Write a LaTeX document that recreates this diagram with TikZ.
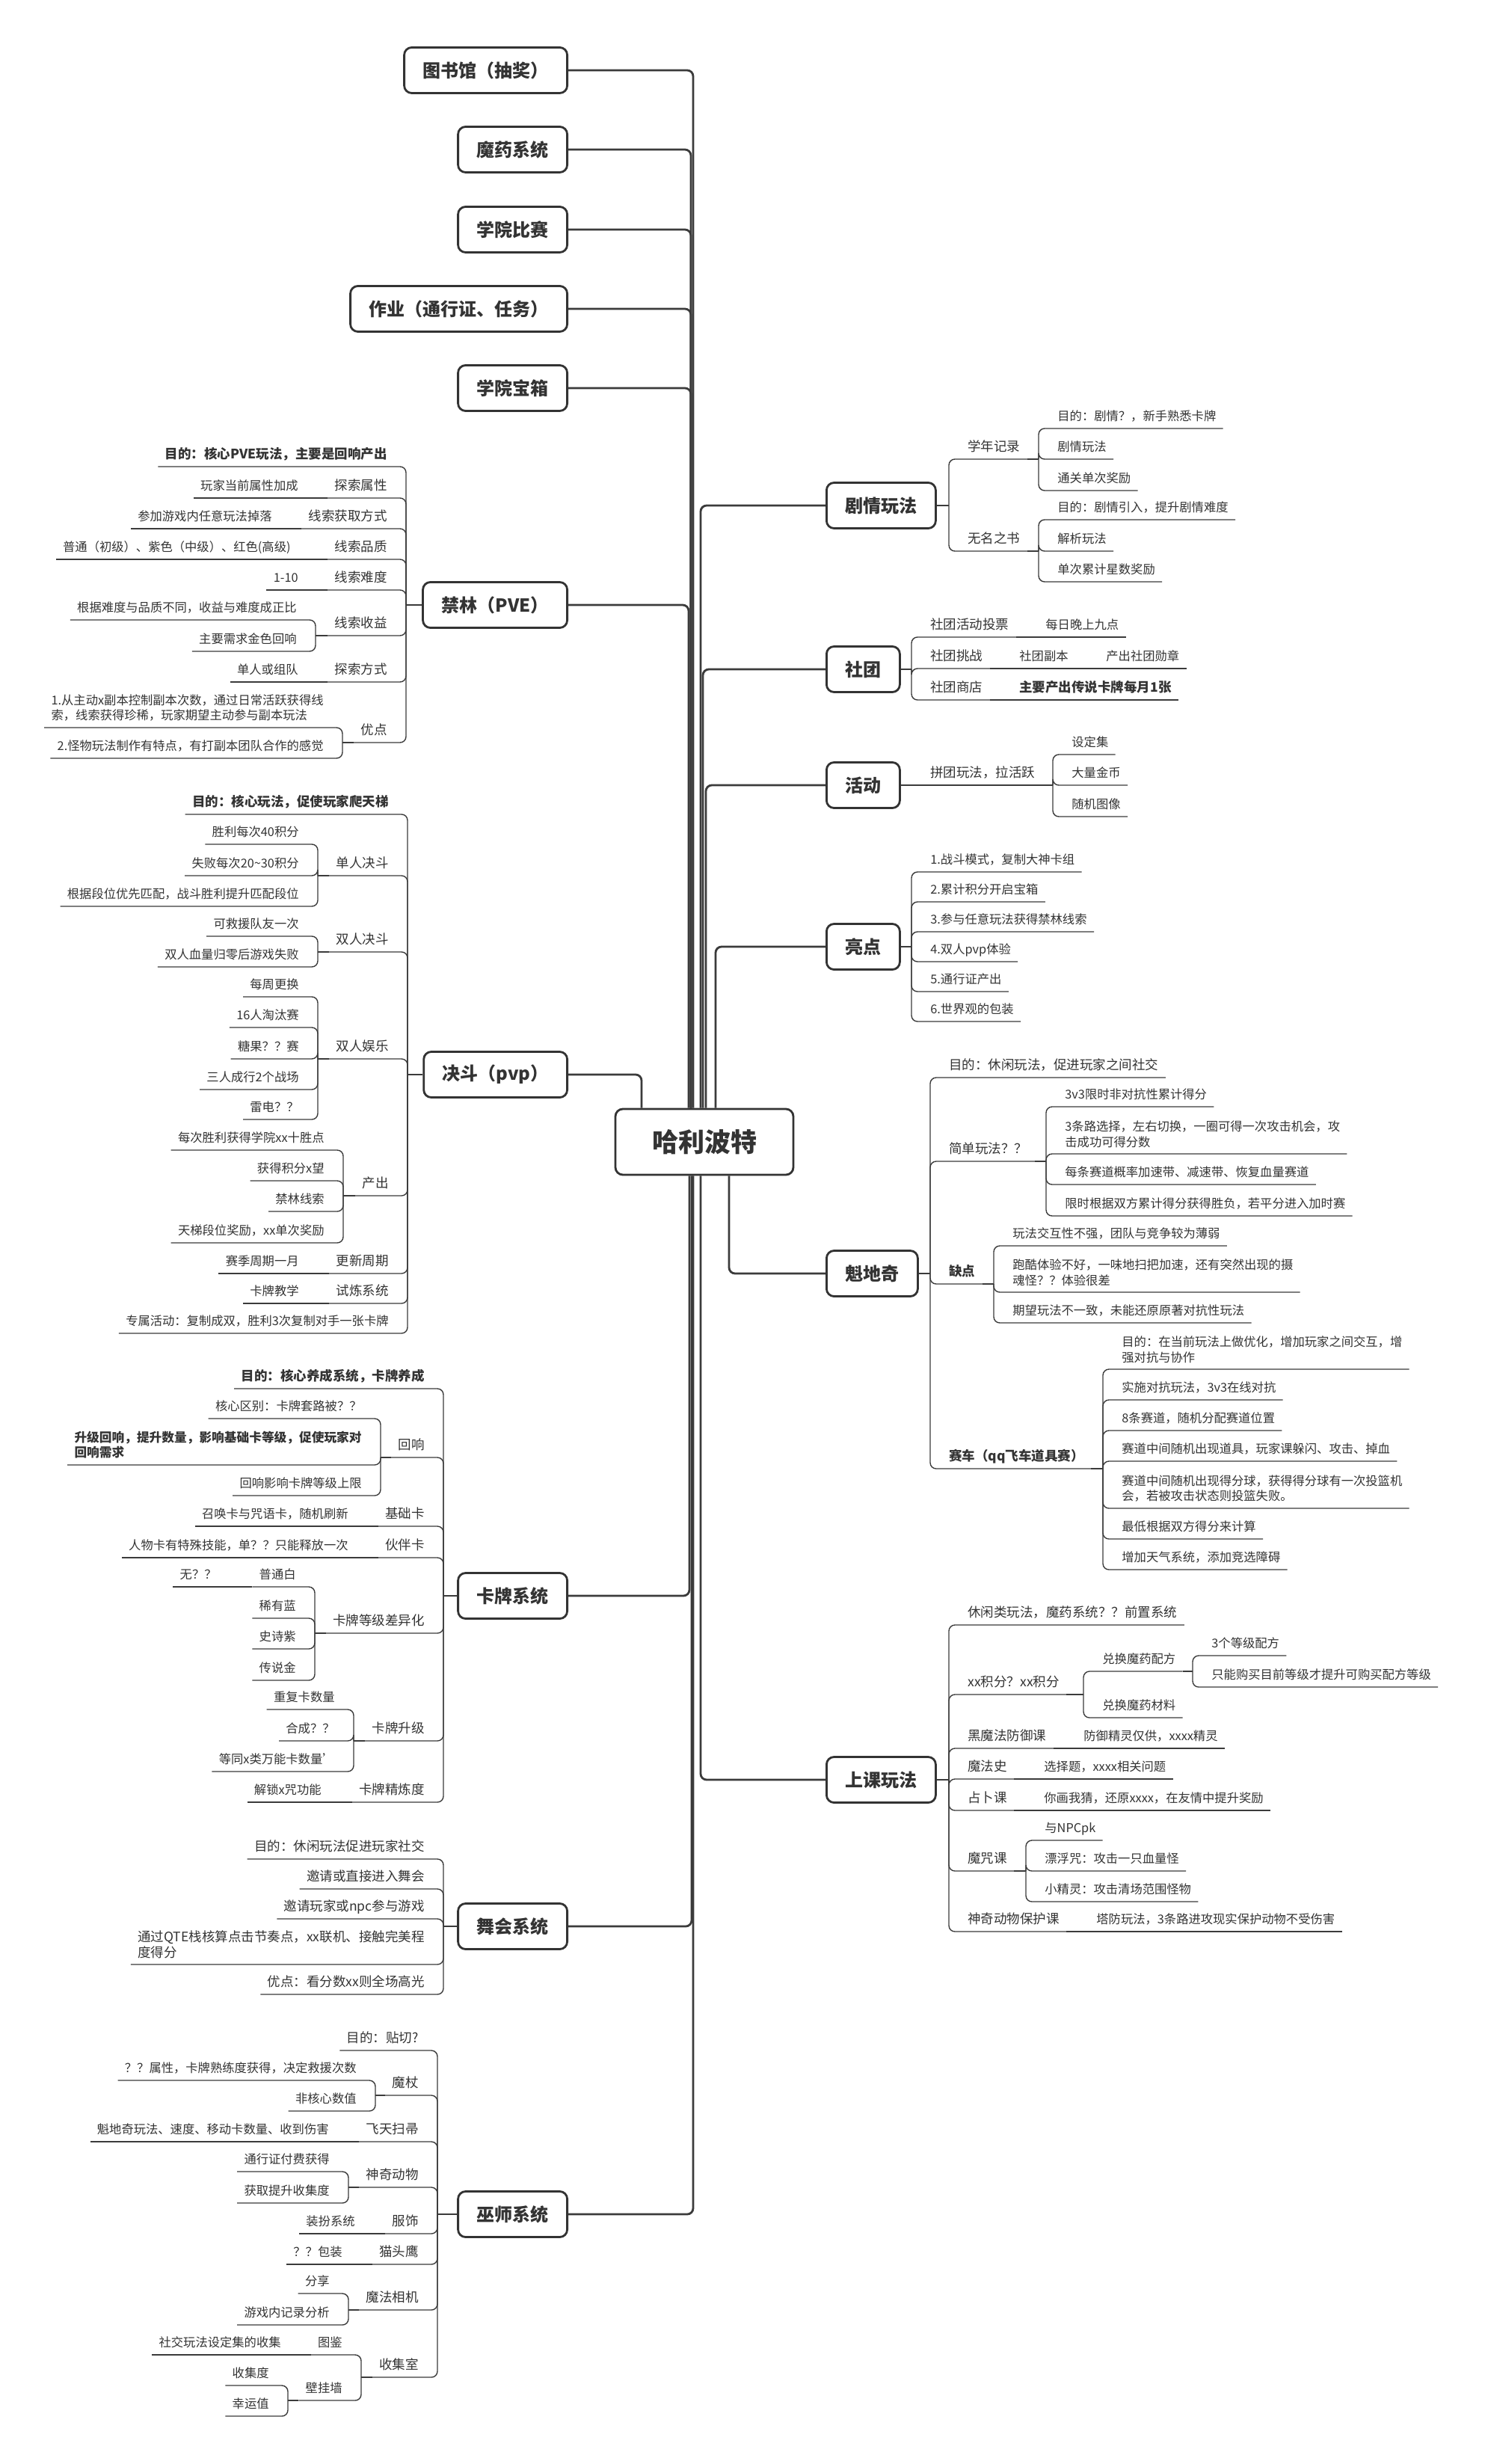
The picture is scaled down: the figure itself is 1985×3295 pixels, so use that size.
\documentclass[tikz,border=0pt]{standalone}
\usepackage{fontspec}
\setmainfont{Noto Sans CJK SC}
\usetikzlibrary{calc}
\definecolor{ink}{HTML}{333333}
\definecolor{wire}{HTML}{3B3B3B}

\begin{document}
\begin{tikzpicture}[x=0.5pt, y=-0.5pt,
        topic/.style={rectangle, draw=ink, line width=1.4pt, rounded corners=5pt, fill=white, text=ink, font=\fontsize{12pt}{14pt}\selectfont\bfseries, minimum height=30.5pt, inner xsep=12.5pt},
        hub/.style={topic, font=\fontsize{17.5pt}{20pt}\selectfont\bfseries, minimum width=119pt, minimum height=44pt},
        cat/.style={text=ink, font=\fontsize{8.75pt}{10.5pt}\selectfont, inner xsep=4.5pt, inner ysep=4pt, text depth=1.2pt},
        leaf/.style={cat, font=\fontsize{8.15pt}{10.3pt}\selectfont},
        catm/.style={text=ink, font=\fontsize{8.75pt}{10.2pt}\selectfont, inner xsep=4.5pt, inner ysep=4pt, align=left},
        leafm/.style={catm, font=\fontsize{8.15pt}{10.2pt}\selectfont},
        heavy/.style={font=\fontsize{8.75pt}{10.2pt}\selectfont\bfseries},
        lside/.style={anchor=south east}, rside/.style={anchor=south west},
        main/.style={draw=wire, line width=1.4pt, rounded corners=4pt},
        sub/.style={draw=wire, line width=0.7pt, rounded corners=4pt},
        stub/.style={draw=wire, line width=1.1pt}]
    \useasboundingbox (0,0) rectangle (1985,3295);
    \fill[white] (0,0) rectangle (1985,3295);
    \node[hub] (root) at (942,1527) {哈利波特};
    \node[topic, anchor=east] (lib) at (760,94) {图书馆（抽奖）};
    \node[topic, anchor=east] (potion) at (760,200) {魔药系统};
    \node[topic, anchor=east] (cup) at (760,307) {学院比赛};
    \node[topic, anchor=east] (hw) at (760,413) {作业（通行证、任务）};
    \node[topic, anchor=east] (chest) at (760,519) {学院宝箱};
    \node[topic, anchor=east] (forest) at (760,809) {禁林（PVE）};
    \node[topic, anchor=east] (duel) at (760,1437) {决斗（pvp）};
    \node[topic, anchor=east] (card) at (760,2134) {卡牌系统};
    \node[topic, anchor=east] (ball) at (760,2576) {舞会系统};
    \node[topic, anchor=east] (wiz) at (760,2961) {巫师系统};
    \node[topic, anchor=west] (plot) at (1104,676) {剧情玩法};
    \node[topic, anchor=west] (club) at (1104,895) {社团};
    \node[topic, anchor=west] (event) at (1104,1050) {活动};
    \node[topic, anchor=west] (high) at (1104,1266) {亮点};
    \node[topic, anchor=west] (quid) at (1104,1703) {魁地奇};
    \node[topic, anchor=west] (class) at (1104,2380) {上课玩法};
    \draw[main] ($(root.north)+(-15,0)$) |- (lib.east);
    \foreach \mom in {potion,cup,hw,chest}
        \draw[main] ($(root.north)+(-18,0)$) |- (\mom.east);
    \draw[main] ($(root.north)+(-21,0)$) |- (forest.east);
    \draw[main] ($(root.north)+(-84,0)$) |- (duel.east);
    \draw[main] ($(root.south)+(-20,0)$) |- (card.east);
    \draw[main] ($(root.south)+(-17,0)$) |- (ball.east);
    \draw[main] ($(root.south)+(-15,0)$) |- (wiz.east);
    \draw[main] ($(root.north)+(-5,0)$) |- (plot.west);
    \draw[main] ($(root.north)+(-2,0)$) |- (club.west);
    \draw[main] ($(root.north)+(2,0)$) |- (event.west);
    \draw[main] ($(root.north)+(15,0)$) |- (high.west);
    \draw[main] ($(root.south)+(33,0)$) |- (quid.west);
    \draw[main] ($(root.south)+(-5,0)$) |- (class.west);

    % 禁林
    \node[cat, lside, heavy] (f1) at (527,624) {目的：核心PVE玩法，主要是回响产出};
    \node[cat, lside] (f2) at (527,666) {探索属性};
    \node[leaf, lside] (f2a) at (408,666) {玩家当前属性加成};
    \node[cat, lside] (f3) at (527,707) {线索获取方式};
    \node[leaf, lside] (f3a) at (373,707) {参加游戏内任意玩法掉落};
    \node[cat, lside] (f4) at (527,748) {线索品质};
    \node[leaf, lside] (f4a) at (398,748) {普通（初级）、紫色（中级）、红色(高级)};
    \node[cat, lside] (f5) at (527,789) {线索难度};
    \node[leaf, lside] (f5a) at (408,789) {1-10};
    \node[cat, lside] (f6) at (527,850) {线索收益};
    \node[leaf, lside] (f6a) at (406,829) {根据难度与品质不同，收益与难度成正比};
    \node[leaf, lside] (f6b) at (406,871) {主要需求金色回响};
    \node[cat, lside] (f7) at (527,912) {探索方式};
    \node[leaf, lside] (f7a) at (408,912) {单人或组队};
    \node[cat, lside] (f8) at (527,993) {优点};
    \node[leafm, lside] (f8a) at (442,973) {1.从主动x副本控制副本次数，通过日常活跃获得线\\索，线索获得珍稀，玩家期望主动参与副本玩法};
    \node[leaf, lside] (f8b) at (442,1014) {2.怪物玩法制作有特点，有打副本团队合作的感觉};
    \draw[stub] (forest.west) -- ($(forest.west -| f1.south east)+(16,0)$);
    \foreach \kid in {f1,f2,f3,f4,f5,f6,f7,f8}
        \draw[sub] ($(forest.west -| f1.south east)+(16,0)$) |- (\kid.south east) -- (\kid.south west);
    \foreach \mom/\kid in {f2/f2a,f3/f3a,f4/f4a,f5/f5a,f7/f7a}
        \draw[sub] (\mom.south west) -- (\kid.south west);
    \draw[sub] (f6.south west) -- ($(f6.south west -| f6a.south east)+(16,0)$);
    \foreach \kid in {f6a,f6b}
        \draw[sub] ($(f6.south west -| f6a.south east)+(16,0)$) |- (\kid.south east) -- (\kid.south west);
    \draw[sub] (f8.south west) -- ($(f8.south west -| f8a.south east)+(16,0)$);
    \foreach \kid in {f8a,f8b}
        \draw[sub] ($(f8.south west -| f8a.south east)+(16,0)$) |- (\kid.south east) -- (\kid.south west);

    % 决斗
    \node[cat, lside, heavy] (d1) at (529,1089) {目的：核心玩法，促使玩家爬天梯};
    \node[cat, lside] (d2) at (529,1171) {单人决斗};
    \node[leaf, lside] (d2a) at (409,1129) {胜利每次40积分};
    \node[leaf, lside] (d2b) at (409,1171) {失败每次20\textasciitilde30积分};
    \node[leaf, lside] (d2c) at (409,1212) {根据段位优先匹配，战斗胜利提升匹配段位};
    \node[cat, lside] (d3) at (529,1273) {双人决斗};
    \node[leaf, lside] (d3a) at (409,1252) {可救援队友一次};
    \node[leaf, lside] (d3b) at (409,1293) {双人血量归零后游戏失败};
    \node[cat, lside] (d4) at (529,1416) {双人娱乐};
    \node[leaf, lside] (d4a) at (409,1333) {每周更换};
    \node[leaf, lside] (d4b) at (409,1374) {16人淘汰赛};
    \node[leaf, lside] (d4c) at (409,1416) {糖果？？赛};
    \node[leaf, lside] (d4d) at (409,1457) {三人成行2个战场};
    \node[leaf, lside] (d4e) at (409,1497) {雷电？？};
    \node[cat, lside] (d5) at (529,1599) {产出};
    \node[leaf, lside] (d5a) at (443,1538) {每次胜利获得学院xx十胜点};
    \node[leaf, lside] (d5b) at (443,1579) {获得积分x望};
    \node[leaf, lside] (d5c) at (443,1620) {禁林线索};
    \node[leaf, lside] (d5d) at (443,1662) {天梯段位奖励，xx单次奖励};
    \node[cat, lside] (d6) at (529,1703) {更新周期};
    \node[leaf, lside] (d6a) at (409,1703) {赛季周期一月};
    \node[cat, lside] (d7) at (529,1743) {试炼系统};
    \node[leaf, lside] (d7a) at (409,1743) {卡牌教学};
    \node[leaf, lside] (d8) at (529,1783) {专属活动：复制成双，胜利3次复制对手一张卡牌};
    \draw[stub] (duel.west) -- ($(duel.west -| d1.south east)+(16,0)$);
    \foreach \kid in {d1,d2,d3,d4,d5,d6,d7,d8}
        \draw[sub] ($(duel.west -| d1.south east)+(16,0)$) |- (\kid.south east) -- (\kid.south west);
    \foreach \mom/\kid in {d6/d6a,d7/d7a}
        \draw[sub] (\mom.south west) -- (\kid.south west);
    \draw[sub] (d2.south west) -- ($(d2.south west -| d2a.south east)+(16,0)$);
    \foreach \kid in {d2a,d2b,d2c}
        \draw[sub] ($(d2.south west -| d2a.south east)+(16,0)$) |- (\kid.south east) -- (\kid.south west);
    \draw[sub] (d3.south west) -- ($(d3.south west -| d3a.south east)+(16,0)$);
    \foreach \kid in {d3a,d3b}
        \draw[sub] ($(d3.south west -| d3a.south east)+(16,0)$) |- (\kid.south east) -- (\kid.south west);
    \draw[sub] (d4.south west) -- ($(d4.south west -| d4a.south east)+(16,0)$);
    \foreach \kid in {d4a,d4b,d4c,d4d,d4e}
        \draw[sub] ($(d4.south west -| d4a.south east)+(16,0)$) |- (\kid.south east) -- (\kid.south west);
    \draw[sub] (d5.south west) -- ($(d5.south west -| d5a.south east)+(16,0)$);
    \foreach \kid in {d5a,d5b,d5c,d5d}
        \draw[sub] ($(d5.south west -| d5a.south east)+(16,0)$) |- (\kid.south east) -- (\kid.south west);

    % 卡牌系统
    \node[cat, lside, heavy] (k1) at (577,1857) {目的：核心养成系统，卡牌养成};
    \node[cat, lside] (k2) at (577,1949) {回响};
    \node[leaf, lside] (k2a) at (493,1897) {核心区别：卡牌套路被？？};
    \node[leafm, lside, heavy, font=\fontsize{8.35pt}{10.2pt}\selectfont\bfseries] (k2b) at (493,1959) {升级回响，提升数量，影响基础卡等级，促使玩家对\\回响需求};
    \node[leaf, lside] (k2c) at (493,2000) {回响影响卡牌等级上限};
    \node[cat, lside] (k3) at (577,2041) {基础卡};
    \node[leaf, lside] (k3a) at (475,2041) {召唤卡与咒语卡，随机刷新};
    \node[cat, lside] (k4) at (577,2083) {伙伴卡};
    \node[leaf, lside] (k4a) at (475,2083) {人物卡有特殊技能，单？？只能释放一次};
    \node[cat, lside] (k5) at (577,2184) {卡牌等级差异化};
    \node[leaf, lside] (k5a) at (405,2122) {普通白};
    \node[leaf, lside] (k5a1) at (299,2122) {无？？};
    \node[leaf, lside] (k5b) at (405,2164) {稀有蓝};
    \node[leaf, lside] (k5c) at (405,2205) {史诗紫};
    \node[leaf, lside] (k5d) at (405,2247) {传说金};
    \node[cat, lside] (k6) at (577,2328) {卡牌升级};
    \node[leaf, lside] (k6a) at (457,2286) {重复卡数量};
    \node[leaf, lside] (k6b) at (457,2328) {合成？？};
    \node[leaf, lside] (k6c) at (457,2369) {等同x类万能卡数量'};
    \node[cat, lside] (k7) at (577,2410) {卡牌精炼度};
    \node[leaf, lside] (k7a) at (439,2410) {解锁x咒功能};
    \draw[stub] (card.west) -- ($(card.west -| k1.south east)+(16,0)$);
    \foreach \kid in {k1,k2,k3,k4,k5,k6,k7}
        \draw[sub] ($(card.west -| k1.south east)+(16,0)$) |- (\kid.south east) -- (\kid.south west);
    \foreach \mom/\kid in {k3/k3a,k4/k4a,k7/k7a,k5a/k5a1}
        \draw[sub] (\mom.south west) -- (\kid.south west);
    \draw[sub] (k2.south west) -- ($(k2.south west -| k2a.south east)+(16,0)$);
    \foreach \kid in {k2a,k2b,k2c}
        \draw[sub] ($(k2.south west -| k2a.south east)+(16,0)$) |- (\kid.south east) -- (\kid.south west);
    \draw[sub] (k5.south west) -- ($(k5.south west -| k5a.south east)+(16,0)$);
    \foreach \kid in {k5a,k5b,k5c,k5d}
        \draw[sub] ($(k5.south west -| k5a.south east)+(16,0)$) |- (\kid.south east) -- (\kid.south west);
    \draw[sub] (k6.south west) -- ($(k6.south west -| k6a.south east)+(16,0)$);
    \foreach \kid in {k6a,k6b,k6c}
        \draw[sub] ($(k6.south west -| k6a.south east)+(16,0)$) |- (\kid.south east) -- (\kid.south west);

    % 舞会系统
    \node[cat, lside] (b1) at (577,2486) {目的：休闲玩法促进玩家社交};
    \node[cat, lside] (b2) at (577,2526) {邀请或直接进入舞会};
    \node[cat, lside] (b3) at (577,2566) {邀请玩家或npc参与游戏};
    \node[catm, lside] (b4) at (577,2627) {通过QTE栈核算点击节奏点，xx联机、接触完美程\\度得分};
    \node[cat, lside] (b5) at (577,2667) {优点：看分数xx则全场高光};
    \draw[stub] (ball.west) -- ($(ball.west -| b1.south east)+(16,0)$);
    \foreach \kid in {b1,b2,b3,b4,b5}
        \draw[sub] ($(ball.west -| b1.south east)+(16,0)$) |- (\kid.south east) -- (\kid.south west);

    % 巫师系统
    \node[cat, lside] (w1) at (569,2742) {目的：贴切?};
    \node[cat, lside] (w2) at (569,2802) {魔杖};
    \node[leaf, lside] (w2a) at (486,2782) {？？属性，卡牌熟练度获得，决定救援次数};
    \node[leaf, lside] (w2b) at (486,2823) {非核心数值};
    \node[cat, lside] (w3) at (569,2864) {飞天扫帚};
    \node[leaf, lside] (w3a) at (449,2864) {魁地奇玩法、速度、移动卡数量、收到伤害};
    \node[cat, lside] (w4) at (569,2925) {神奇动物};
    \node[leaf, lside] (w4a) at (450,2904) {通行证付费获得};
    \node[leaf, lside] (w4b) at (450,2946) {获取提升收集度};
    \node[cat, lside] (w5) at (569,2987) {服饰};
    \node[leaf, lside] (w5a) at (484,2987) {装扮系统};
    \node[cat, lside] (w6) at (569,3028) {猫头鹰};
    \node[leaf, lside] (w6a) at (467,3028) {？？包装};
    \node[cat, lside] (w7) at (569,3089) {魔法相机};
    \node[leaf, lside] (w7a) at (450,3067) {分享};
    \node[leaf, lside] (w7b) at (450,3109) {游戏内记录分析};
    \node[cat, lside] (w8) at (569,3179) {收集室};
    \node[leaf, lside] (w8a) at (467,3149) {图鉴};
    \node[leaf, lside] (w8a1) at (385,3149) {社交玩法设定集的收集};
    \node[leaf, lside] (w8b) at (467,3210) {壁挂墙};
    \node[leaf, lside] (w8b1) at (369,3190) {收集度};
    \node[leaf, lside] (w8b2) at (369,3231) {幸运值};
    \draw[stub] (wiz.west) -- ($(wiz.west -| w1.south east)+(16,0)$);
    \foreach \kid in {w1,w2,w3,w4,w5,w6,w7,w8}
        \draw[sub] ($(wiz.west -| w1.south east)+(16,0)$) |- (\kid.south east) -- (\kid.south west);
    \foreach \mom/\kid in {w3/w3a,w5/w5a,w6/w6a,w8a/w8a1}
        \draw[sub] (\mom.south west) -- (\kid.south west);
    \draw[sub] (w2.south west) -- ($(w2.south west -| w2a.south east)+(16,0)$);
    \foreach \kid in {w2a,w2b}
        \draw[sub] ($(w2.south west -| w2a.south east)+(16,0)$) |- (\kid.south east) -- (\kid.south west);
    \draw[sub] (w4.south west) -- ($(w4.south west -| w4a.south east)+(16,0)$);
    \foreach \kid in {w4a,w4b}
        \draw[sub] ($(w4.south west -| w4a.south east)+(16,0)$) |- (\kid.south east) -- (\kid.south west);
    \draw[sub] (w7.south west) -- ($(w7.south west -| w7a.south east)+(16,0)$);
    \foreach \kid in {w7a,w7b}
        \draw[sub] ($(w7.south west -| w7a.south east)+(16,0)$) |- (\kid.south east) -- (\kid.south west);
    \draw[sub] (w8.south west) -- ($(w8.south west -| w8a.south east)+(16,0)$);
    \foreach \kid in {w8a,w8b}
        \draw[sub] ($(w8.south west -| w8a.south east)+(16,0)$) |- (\kid.south east) -- (\kid.south west);
    \draw[sub] (w8b.south west) -- ($(w8b.south west -| w8b1.south east)+(16,0)$);
    \foreach \kid in {w8b1,w8b2}
        \draw[sub] ($(w8b.south west -| w8b1.south east)+(16,0)$) |- (\kid.south east) -- (\kid.south west);

    % 剧情玩法
    \node[cat, rside] (p1) at (1285,614) {学年记录};
    \node[leaf, rside] (p1a) at (1405,573) {目的：剧情？，新手熟悉卡牌};
    \node[leaf, rside] (p1b) at (1405,614) {剧情玩法};
    \node[leaf, rside] (p1c) at (1405,656) {通关单次奖励};
    \node[cat, rside] (p2) at (1285,737) {无名之书};
    \node[leaf, rside] (p2a) at (1405,695) {目的：剧情引入，提升剧情难度};
    \node[leaf, rside] (p2b) at (1405,737) {解析玩法};
    \node[leaf, rside] (p2c) at (1405,778) {单次累计星数奖励};
    \draw[stub] (plot.east) -- ($(plot.east -| p1.south west)+(-16,0)$);
    \foreach \kid in {p1,p2}
        \draw[sub] ($(plot.east -| p1.south west)+(-16,0)$) |- (\kid.south west) -- (\kid.south east);
    \draw[sub] (p1.south east) -- ($(p1.south east -| p1a.south west)+(-16,0)$);
    \foreach \kid in {p1a,p1b,p1c}
        \draw[sub] ($(p1.south east -| p1a.south west)+(-16,0)$) |- (\kid.south west) -- (\kid.south east);
    \draw[sub] (p2.south east) -- ($(p2.south east -| p2a.south west)+(-16,0)$);
    \foreach \kid in {p2a,p2b,p2c}
        \draw[sub] ($(p2.south east -| p2a.south west)+(-16,0)$) |- (\kid.south west) -- (\kid.south east);

    % 社团
    \node[cat, rside] (c1) at (1235,852) {社团活动投票};
    \node[leaf, rside] (c1a) at (1389,852) {每日晚上九点};
    \node[cat, rside] (c2) at (1235,894) {社团挑战};
    \node[leaf, rside] (c2a) at (1354,894) {社团副本};
    \node[leaf, rside] (c2a1) at (1470,894) {产出社团勋章};
    \node[cat, rside] (c3) at (1235,936) {社团商店};
    \node[leaf, rside, heavy] (c3a) at (1354,936) {主要产出传说卡牌每月1张};
    \draw[stub] (club.east) -- ($(club.east -| c1.south west)+(-16,0)$);
    \foreach \kid in {c1,c2,c3}
        \draw[sub] ($(club.east -| c1.south west)+(-16,0)$) |- (\kid.south west) -- (\kid.south east);
    \foreach \mom/\kid in {c1/c1a,c2/c2a,c2a/c2a1,c3/c3a}
        \draw[sub] (\mom.south east) -- (\kid.south east);

    % 活动
    \node[cat, rside] (e1) at (1235,1050) {拼团玩法，拉活跃};
    \node[leaf, rside] (e1a) at (1424,1009) {设定集};
    \node[leaf, rside] (e1b) at (1424,1050) {大量金币};
    \node[leaf, rside] (e1c) at (1424,1092) {随机图像};
    \draw[stub] (event.east) -- ($(event.east -| e1.south west)+(-16,0)$);
    \draw[sub] ($(event.east -| e1.south west)+(-16,0)$) -- (e1.south east);
    \draw[sub] (e1.south east) -- ($(e1.south east -| e1a.south west)+(-16,0)$);
    \foreach \kid in {e1a,e1b,e1c}
        \draw[sub] ($(e1.south east -| e1a.south west)+(-16,0)$) |- (\kid.south west) -- (\kid.south east);

    % 亮点
    \node[leaf, rside] (h1) at (1235,1166) {1.战斗模式，复制大神卡组};
    \node[leaf, rside] (h2) at (1235,1206) {2.累计积分开启宝箱};
    \node[leaf, rside] (h3) at (1235,1246) {3.参与任意玩法获得禁林线索};
    \node[leaf, rside] (h4) at (1235,1286) {4.双人pvp体验};
    \node[leaf, rside] (h5) at (1235,1326) {5.通行证产出};
    \node[leaf, rside] (h6) at (1235,1366) {6.世界观的包装};
    \draw[stub] (high.east) -- ($(high.east -| h1.south west)+(-16,0)$);
    \foreach \kid in {h1,h2,h3,h4,h5,h6}
        \draw[sub] ($(high.east -| h1.south west)+(-16,0)$) |- (\kid.south west) -- (\kid.south east);

    % 魁地奇
    \node[cat, rside] (q1) at (1260,1441) {目的：休闲玩法，促进玩家之间社交};
    \node[cat, rside] (q2) at (1260,1553) {简单玩法？？};
    \node[leaf, rside] (q2a) at (1415,1480) {3v3限时非对抗性累计得分};
    \node[leafm, rside] (q2b) at (1415,1543) {3条路选择，左右切换，一圈可得一次攻击机会，攻\\击成功可得分数};
    \node[leaf, rside] (q2c) at (1415,1584) {每条赛道概率加速带、减速带、恢复血量赛道};
    \node[leaf, rside] (q2d) at (1415,1626) {限时根据双方累计得分获得胜负，若平分进入加时赛};
    \node[cat, rside, heavy] (q3) at (1260,1717) {缺点};
    \node[leaf, rside] (q3a) at (1345,1666) {玩法交互性不强，团队与竞争较为薄弱};
    \node[leafm, rside] (q3b) at (1345,1728) {跑酷体验不好，一味地扫把加速，还有突然出现的摄\\魂怪？？体验很差};
    \node[leaf, rside] (q3c) at (1345,1769) {期望玩法不一致，未能还原原著对抗性玩法};
    \node[cat, rside, heavy] (q4) at (1260,1964) {赛车（qq飞车道具赛）};
    \node[leafm, rside] (q4a) at (1491,1831) {目的：在当前玩法上做优化，增加玩家之间交互，增\\强对抗与协作};
    \node[leaf, rside] (q4b) at (1491,1872) {实施对抗玩法，3v3在线对抗};
    \node[leaf, rside] (q4c) at (1491,1913) {8条赛道，随机分配赛道位置};
    \node[leaf, rside] (q4d) at (1491,1954) {赛道中间随机出现道具，玩家课躲闪、攻击、掉血};
    \node[leafm, rside] (q4e) at (1491,2017) {赛道中间随机出现得分球，获得得分球有一次投篮机\\会，若被攻击状态则投篮失败。};
    \node[leaf, rside] (q4f) at (1491,2058) {最低根据双方得分来计算};
    \node[leaf, rside] (q4g) at (1491,2099) {增加天气系统，添加竞选障碍};
    \draw[stub] (quid.east) -- ($(quid.east -| q1.south west)+(-16,0)$);
    \foreach \kid in {q1,q2,q3,q4}
        \draw[sub] ($(quid.east -| q1.south west)+(-16,0)$) |- (\kid.south west) -- (\kid.south east);
    \draw[sub] (q2.south east) -- ($(q2.south east -| q2a.south west)+(-16,0)$);
    \foreach \kid in {q2a,q2b,q2c,q2d}
        \draw[sub] ($(q2.south east -| q2a.south west)+(-16,0)$) |- (\kid.south west) -- (\kid.south east);
    \draw[sub] (q3.south east) -- ($(q3.south east -| q3a.south west)+(-16,0)$);
    \foreach \kid in {q3a,q3b,q3c}
        \draw[sub] ($(q3.south east -| q3a.south west)+(-16,0)$) |- (\kid.south west) -- (\kid.south east);
    \draw[sub] (q4.south east) -- ($(q4.south east -| q4a.south west)+(-16,0)$);
    \foreach \kid in {q4a,q4b,q4c,q4d,q4e,q4f,q4g}
        \draw[sub] ($(q4.south east -| q4a.south west)+(-16,0)$) |- (\kid.south west) -- (\kid.south east);

    % 上课玩法
    \node[cat, rside] (s1) at (1285,2173) {休闲类玩法，魔药系统？？前置系统};
    \node[cat, rside] (s2) at (1285,2266) {xx积分？xx积分};
    \node[leaf, rside] (s2a) at (1465,2235) {兑换魔药配方};
    \node[leaf, rside] (s2a1) at (1611,2214) {3个等级配方};
    \node[leaf, rside] (s2a2) at (1611,2256) {只能购买目前等级才提升可购买配方等级};
    \node[leaf, rside] (s2b) at (1465,2297) {兑换魔药材料};
    \node[cat, rside] (s3) at (1285,2338) {黑魔法防御课};
    \node[leaf, rside] (s3a) at (1440,2338) {防御精灵仅供，xxxx精灵};
    \node[cat, rside] (s4) at (1285,2379) {魔法史};
    \node[leaf, rside] (s4a) at (1387,2379) {选择题，xxxx相关问题};
    \node[cat, rside] (s5) at (1285,2421) {占卜课};
    \node[leaf, rside] (s5a) at (1387,2421) {你画我猜，还原xxxx，在友情中提升奖励};
    \node[cat, rside] (s6) at (1285,2502) {魔咒课};
    \node[leaf, rside] (s6a) at (1388,2461) {与NPCpk};
    \node[leaf, rside] (s6b) at (1388,2502) {漂浮咒：攻击一只血量怪};
    \node[leaf, rside] (s6c) at (1388,2543) {小精灵：攻击清场范围怪物};
    \node[cat, rside] (s7) at (1285,2583) {神奇动物保护课};
    \node[leaf, rside] (s7a) at (1457,2583) {塔防玩法，3条路进攻现实保护动物不受伤害};
    \draw[stub] (class.east) -- ($(class.east -| s1.south west)+(-16,0)$);
    \foreach \kid in {s1,s2,s3,s4,s5,s6,s7}
        \draw[sub] ($(class.east -| s1.south west)+(-16,0)$) |- (\kid.south west) -- (\kid.south east);
    \foreach \mom/\kid in {s3/s3a,s4/s4a,s5/s5a,s7/s7a}
        \draw[sub] (\mom.south east) -- (\kid.south east);
    \draw[sub] (s2.south east) -- ($(s2.south east -| s2a.south west)+(-16,0)$);
    \foreach \kid in {s2a,s2b}
        \draw[sub] ($(s2.south east -| s2a.south west)+(-16,0)$) |- (\kid.south west) -- (\kid.south east);
    \draw[sub] (s2a.south east) -- ($(s2a.south east -| s2a1.south west)+(-16,0)$);
    \foreach \kid in {s2a1,s2a2}
        \draw[sub] ($(s2a.south east -| s2a1.south west)+(-16,0)$) |- (\kid.south west) -- (\kid.south east);
    \draw[sub] (s6.south east) -- ($(s6.south east -| s6a.south west)+(-16,0)$);
    \foreach \kid in {s6a,s6b,s6c}
        \draw[sub] ($(s6.south east -| s6a.south west)+(-16,0)$) |- (\kid.south west) -- (\kid.south east);
\end{tikzpicture}
\end{document}
